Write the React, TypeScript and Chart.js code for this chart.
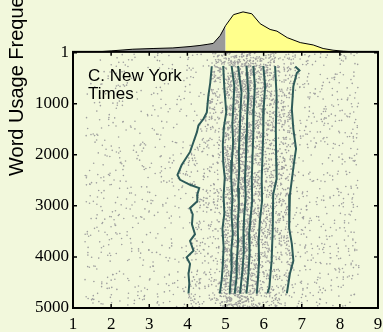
import React, { useEffect, useRef } from 'react';
import { Chart, registerables } from 'chart.js';

Chart.register(...registerables);

const BG = '#f2f8dc';
const LINE_COLOR = '#2e5b59';
const DOT_COLOR = '#9e9e9e';

const X_TICKS = [1, 2, 3, 4, 5, 6, 7, 8, 9];
const Y_TICKS = [1, 1000, 2000, 3000, 4000, 5000];
const N_WORDS = 5000;

// Happiness distribution (top panel), split at the neutral score 5
const DENS_X_LOW = [1.0, 1.7, 2.0, 2.57, 3.1, 3.62, 4.07, 4.33, 4.54, 4.68, 4.86, 5.0];
const DENS_H_LOW = [0, 0.2, 1.0, 2.7, 3.4, 4.0, 5.4, 6.5, 7.7, 8.6, 16.5, 26.5];
const DENS_X_HIGH = [5.0, 5.21, 5.46, 5.69, 5.91, 6.17, 6.35, 6.62, 6.96, 7.3, 7.56, 7.82, 8.09, 8.4, 9.0];
const DENS_H_HIGH = [26.5, 37.7, 40.5, 38.6, 28.5, 22.7, 21.0, 14.4, 9.4, 7.0, 3.4, 1.7, 0.7, 0, 0];

// Sliding-window deciles of the happiness score versus frequency rank
const D10_RANKS = [267, 590, 847, 1170, 1300, 1427, 1557, 1750, 1944, 2201, 2395, 2491, 2588, 2654, 2781, 2911, 3041, 3168, 3362, 3555, 3685, 3878, 4008, 4135, 4329, 4522, 4716];
const D10 = [4.64, 4.60, 4.55, 4.51, 4.42, 4.29, 4.25, 4.16, 4.07, 3.85, 3.74, 3.81, 4.07, 4.31, 4.26, 4.26, 4.07, 4.14, 4.12, 4.20, 4.07, 4.16, 3.98, 4.07, 4.03, 4.05, 4.03];

const D20_RANKS = [260, 700, 1170, 1450, 1800, 2150, 2450, 2800, 3150, 3450, 3800, 4150, 4450, 4720];
const D20 = [4.94, 4.97, 5.02, 4.96, 4.93, 4.94, 4.98, 4.95, 4.97, 4.92, 4.95, 4.93, 4.90, 4.85];

const D30_RANKS = [260, 650, 1000, 1400, 1750, 2100, 2470, 2850, 3200, 3550, 3900, 4250, 4500, 4720];
const D30 = [5.16, 5.23, 5.21, 5.18, 5.20, 5.17, 5.15, 5.18, 5.16, 5.19, 5.15, 5.16, 5.13, 5.11];

const D40_RANKS = [260, 790, 1150, 1600, 1950, 2300, 2650, 3000, 3350, 3700, 4050, 4400, 4720];
const D40 = [5.33, 5.42, 5.39, 5.37, 5.35, 5.36, 5.33, 5.35, 5.32, 5.33, 5.30, 5.29, 5.24];

const D50_RANKS = [260, 800, 1200, 1600, 2000, 2470, 2800, 3200, 3550, 3900, 4300, 4720];
const D50 = [5.55, 5.60, 5.57, 5.56, 5.54, 5.51, 5.53, 5.49, 5.47, 5.48, 5.44, 5.38];

const D60_RANKS = [260, 650, 1100, 1600, 2000, 2470, 2900, 3300, 3550, 3950, 4350, 4720];
const D60 = [5.73, 5.77, 5.74, 5.73, 5.71, 5.69, 5.70, 5.65, 5.62, 5.63, 5.60, 5.55];

const D70_RANKS = [260, 650, 1100, 1600, 2000, 2470, 2900, 3300, 3700, 4100, 4450, 4720];
const D70 = [5.99, 6.04, 6.00, 5.99, 5.97, 5.95, 5.96, 5.90, 5.87, 5.88, 5.85, 5.82];

const D80_RANKS = [265, 845, 1500, 2140, 2470, 2780, 3435, 4073, 4595, 4711];
const D80 = [6.30, 6.34, 6.32, 6.33, 6.34, 6.25, 6.24, 6.21, 6.15, 6.10];

const D90_RANKS = [271, 348, 400, 658, 1110, 1497, 1883, 2140, 2778, 3435, 3745, 4073, 4325, 4711];
const D90 = [6.83, 6.94, 6.87, 6.78, 6.74, 6.78, 6.85, 6.80, 6.69, 6.67, 6.74, 6.78, 6.69, 6.61];

// Extremes of the score range, used as the outer quantiles
const SCORE_MIN = 1.3;
const SCORE_MAX = 8.5;

const DECILE_TRACES: [number[], number[]][] = [
  [D10_RANKS, D10],
  [D20_RANKS, D20],
  [D30_RANKS, D30],
  [D40_RANKS, D40],
  [D50_RANKS, D50],
  [D60_RANKS, D60],
  [D70_RANKS, D70],
  [D80_RANKS, D80],
  [D90_RANKS, D90],
];

function interp(xs: number[], ys: number[], v: number): number {
  if (v <= xs[0]) return ys[0];
  if (v >= xs[xs.length - 1]) return ys[ys.length - 1];
  let i = 1;
  while (xs[i] < v) i++;
  const t = (v - xs[i - 1]) / (xs[i] - xs[i - 1]);
  return ys[i - 1] + t * (ys[i] - ys[i - 1]);
}

function decilesAt(rank: number): number[] {
  return [SCORE_MIN, ...DECILE_TRACES.map(([rs, vs]) => interp(rs, vs, rank)), SCORE_MAX];
}

// One word per rank, placed at an evenly spread quantile level of that rank's distribution
function buildWords() {
  const pts: { x: number; y: number }[] = [];
  const phi = 0.6180339887498949;
  for (let r = 1; r <= N_WORDS; r++) {
    const q = (r * r * phi) % 1;
    const d = decilesAt(r);
    const pos = q * 10;
    const i = Math.min(9, Math.floor(pos));
    const t = pos - i;
    pts.push({ x: d[i] + t * (d[i + 1] - d[i]), y: r });
  }
  return pts;
}

function toPoints(xs: number[], ys: number[]) {
  return xs.map((x, i) => ({ x, y: ys[i] }));
}

function lineFromRanks(ranks: number[], vals: number[]) {
  return ranks.map((r, i) => ({ x: vals[i], y: r }));
}

const framePlugin = {
  id: 'frame',
  afterDatasetsDraw(chart: any) {
    const { ctx } = chart;
    const xs = chart.scales.x;
    const ys = chart.scales.y;
    const l = xs.left;
    const r = xs.right;
    const t = ys.top;
    const b = ys.bottom;
    ctx.save();
    ctx.strokeStyle = '#000';
    ctx.lineWidth = 2;
    ctx.strokeRect(l, t, r - l, b - t);
    ctx.lineWidth = 1.5;
    ctx.beginPath();
    for (const v of X_TICKS) {
      const px = xs.getPixelForValue(v);
      ctx.moveTo(px, b);
      ctx.lineTo(px, b - 4);
      ctx.moveTo(px, t);
      ctx.lineTo(px, t + 4);
    }
    for (const v of Y_TICKS) {
      const py = ys.getPixelForValue(v);
      ctx.moveTo(l, py);
      ctx.lineTo(l + 4, py);
      ctx.moveTo(r, py);
      ctx.lineTo(r - 4, py);
    }
    ctx.stroke();

    ctx.fillStyle = '#000';
    ctx.textAlign = 'left';
    ctx.textBaseline = 'alphabetic';
    ctx.font = '17px "Liberation Sans", Arial, sans-serif';
    ctx.fillText('C. New York', l + 15, t + 29);
    ctx.fillText('Times', l + 15, t + 47);

    ctx.translate(23, 176);
    ctx.rotate(-Math.PI / 2);
    ctx.font = '20px "Liberation Sans", Arial, sans-serif';
    ctx.fillText('Word Usage Frequency', 0, 0);
    ctx.restore();
  },
};

export default function App() {
  const canvasRef = useRef<HTMLCanvasElement | null>(null);

  useEffect(() => {
    const canvas = canvasRef.current;
    if (!canvas) return;

    const lineStyle = {
      type: 'line' as const,
      yAxisID: 'y',
      borderColor: LINE_COLOR,
      borderWidth: 2,
      pointRadius: 0,
      fill: false,
      tension: 0,
      order: 1,
    };

    const chart = new Chart(canvas, {
      type: 'scatter',
      data: {
        datasets: [
          {
            type: 'line',
            yAxisID: 'yd',
            data: toPoints(DENS_X_LOW, DENS_H_LOW),
            borderColor: '#000',
            borderWidth: 1,
            backgroundColor: '#9a9a9a',
            fill: 'origin',
            pointRadius: 0,
            tension: 0,
            order: 0,
          },
          {
            type: 'line',
            yAxisID: 'yd',
            data: toPoints(DENS_X_HIGH, DENS_H_HIGH),
            borderColor: '#000',
            borderWidth: 1,
            backgroundColor: '#ffff8c',
            fill: 'origin',
            pointRadius: 0,
            tension: 0,
            order: 0,
          },
          ...DECILE_TRACES.map(([rs, vs]) => ({ ...lineStyle, data: lineFromRanks(rs, vs) })),
          {
            type: 'scatter',
            yAxisID: 'y',
            data: buildWords(),
            pointRadius: 0.8,
            pointBorderWidth: 0,
            pointBackgroundColor: DOT_COLOR,
            order: 2,
          },
        ] as any,
      },
      options: {
        responsive: false,
        animation: false,
        devicePixelRatio: 1,
        layout: { padding: { left: 0, right: 5, top: 0, bottom: 0 } },
        plugins: { legend: { display: false }, tooltip: { enabled: false } },
        scales: {
          x: {
            type: 'linear',
            position: 'bottom',
            min: 1,
            max: 9,
            afterBuildTicks: (s: any) => {
              s.ticks = X_TICKS.map((v) => ({ value: v }));
            },
            afterFit: (s: any) => {
              s.height = 24;
              s.paddingLeft = 0;
              s.paddingRight = 0;
            },
            grid: { display: false, drawTicks: false },
            border: { display: false },
            ticks: {
              color: '#000',
              padding: 6,
              maxRotation: 0,
              font: { family: '"Liberation Serif", "Times New Roman", serif', size: 17 },
            },
          },
          y: {
            type: 'linear',
            position: 'left',
            stack: 'v',
            stackWeight: 259.5,
            reverse: true,
            min: -15,
            max: 5000,
            afterBuildTicks: (s: any) => {
              s.ticks = Y_TICKS.map((v) => ({ value: v }));
            },
            afterFit: (s: any) => {
              s.width = 73;
              s.paddingTop = 0;
              s.paddingBottom = 0;
            },
            grid: { display: false, drawTicks: false },
            border: { display: false },
            ticks: {
              color: '#000',
              padding: 4,
              callback: (v: any) => String(v),
              font: { family: '"Liberation Serif", "Times New Roman", serif', size: 17 },
            },
          },
          yd: {
            type: 'linear',
            position: 'left',
            stack: 'v',
            stackWeight: 48.5,
            min: 0,
            max: 48.5,
            afterFit: (s: any) => {
              s.width = 73;
              s.paddingTop = 0;
              s.paddingBottom = 0;
            },
            grid: { display: false, drawTicks: false },
            border: { display: false },
            ticks: { display: false },
          },
        },
      },
      plugins: [framePlugin],
    });

    return () => chart.destroy();
  }, []);

  return (
    <div style={{ position: 'fixed', left: 0, top: 0, width: 383, height: 332, background: BG }}>
      <canvas ref={canvasRef} width={383} height={332} style={{ display: 'block' }} />
    </div>
  );
}
